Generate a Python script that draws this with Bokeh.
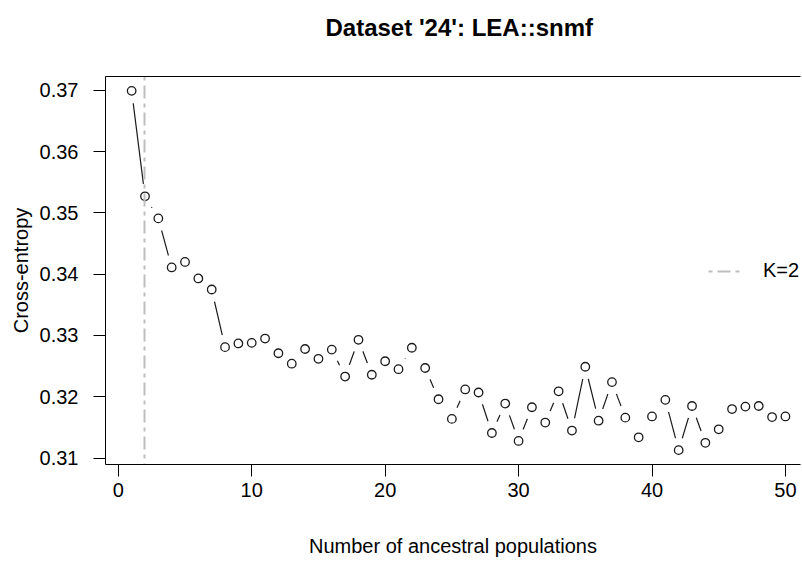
from bokeh.plotting import figure
from bokeh.models import (FixedTicker, LinearAxis, Range1d, Legend, LegendItem,
                          ColorBar, LinearColorMapper)
from bokeh.embed import file_html
from bokeh.resources import INLINE

# ---- data ----
k_values = list(range(1, 51))
cross_entropy = [0.3699, 0.3527, 0.3491, 0.3411, 0.3420, 0.3393, 0.3375, 0.3281, 0.3287, 0.3288,
                 0.3295, 0.3271, 0.3254, 0.3278, 0.3262, 0.3277, 0.3233, 0.3293, 0.3236, 0.3258,
                 0.3245, 0.3280, 0.3247, 0.3196, 0.3164, 0.3212, 0.3207, 0.3141, 0.3189, 0.3128,
                 0.3183, 0.3158, 0.3209, 0.3145, 0.3249, 0.3161, 0.3224, 0.3166, 0.3134, 0.3168,
                 0.3195, 0.3113, 0.3185, 0.3125, 0.3147, 0.3180, 0.3184, 0.3185, 0.3167, 0.3168]
k_best = 2
x_ticks = [0, 10, 20, 30, 40, 50]
x_tick_labels = ["0", "10", "20", "30", "40", "50"]
y_ticks = [0.31, 0.32, 0.33, 0.34, 0.35, 0.36, 0.37]
y_tick_labels = ["0.31", "0.32", "0.33", "0.34", "0.35", "0.36", "0.37"]
title_text = "Dataset '24': LEA::snmf"
x_label = "Number of ancestral populations"
y_label = "Cross-entropy"

FONT = "Liberation Sans"
INK = "#1a1a1a"

p = figure(width=802, height=563,
           x_range=Range1d(-0.96, 51.13), y_range=Range1d(0.30896, 0.37224),
           output_backend="svg", toolbar_location=None,
           min_border_left=105, min_border_right=2, min_border_top=76, min_border_bottom=99)

p.xgrid.visible = False
p.ygrid.visible = False
p.outline_line_color = None
p.background_fill_color = "white"
p.border_fill_color = "white"

p.title.text = title_text
p.title.text_font = FONT
p.title.text_font_size = "24px"
p.title.text_font_style = "bold"
p.title.text_color = "black"
p.title.align = "left"
p.title.offset = 220
p.title.standoff = 10

for ax in (p.xaxis[0], p.yaxis[0]):
    ax.major_tick_out = 12
    ax.major_tick_in = 0
    ax.minor_tick_line_color = None
    ax.axis_line_color = "black"
    ax.major_tick_line_color = "black"
    ax.major_label_text_font = FONT
    ax.major_label_text_font_size = "20px"
    ax.major_label_text_color = "black"
    ax.axis_label_text_font = FONT
    ax.axis_label_text_font_size = "20px"
    ax.axis_label_text_font_style = "normal"
    ax.axis_label_text_color = "black"

p.xaxis.ticker = FixedTicker(ticks=x_ticks)
p.xaxis.major_label_overrides = dict(zip(x_ticks, x_tick_labels))
p.yaxis.ticker = FixedTicker(ticks=y_ticks)
p.yaxis.major_label_overrides = dict(zip(y_ticks, y_tick_labels))
p.xaxis.axis_label = x_label
p.yaxis.axis_label = y_label
p.xaxis.major_label_standoff = 6
p.xaxis.axis_label_standoff = 35
p.yaxis.major_label_standoff = 15
p.yaxis.axis_label_standoff = 5

# top border of the box (no ticks, no labels)
top_axis = LinearAxis(ticker=FixedTicker(ticks=[]), major_label_text_font_size="0px",
                      major_tick_out=0, major_tick_in=0, major_label_standoff=0,
                      major_tick_line_color=None, minor_tick_line_color=None,
                      axis_line_color="black")
p.add_layout(top_axis, "above")

# invisible, text-free spacer between the box and the title
spacer = ColorBar(color_mapper=LinearColorMapper(palette=["#ffffff"], low=0, high=1),
                  orientation="horizontal", height=31, padding=0, margin=0,
                  ticker=FixedTicker(ticks=[]), major_tick_line_color=None,
                  minor_tick_line_color=None, bar_line_color=None, border_line_color=None,
                  background_fill_alpha=0, scale_alpha=0, title=None,
                  major_label_text_font_size="0px")
p.add_layout(spacer, "above")

# connecting line with gaps around points (type="b")
p.line(k_values, cross_entropy, line_color=INK, line_width=1.2)
p.scatter(k_values, cross_entropy, size=25, fill_color="white", line_color=None)
p.scatter(k_values, cross_entropy, size=8.5, fill_color="white", line_color=INK, line_width=1.3)

dash = "4 5 13 5"
k_r = p.vspan(x=[k_best], line_color="#BEBEBE", line_width=2, line_dash=dash)

legend = Legend(items=[LegendItem(label=f"K={k_best}", renderers=[k_r])],
                location=(603, 182), border_line_color=None, background_fill_alpha=0,
                padding=0, margin=0, spacing=0, glyph_width=33, glyph_height=20,
                label_standoff=22, label_text_font=FONT, label_text_font_size="20px",
                label_text_color="black")
p.add_layout(legend)

open("out.html", "w").write(file_html(p, INLINE))
